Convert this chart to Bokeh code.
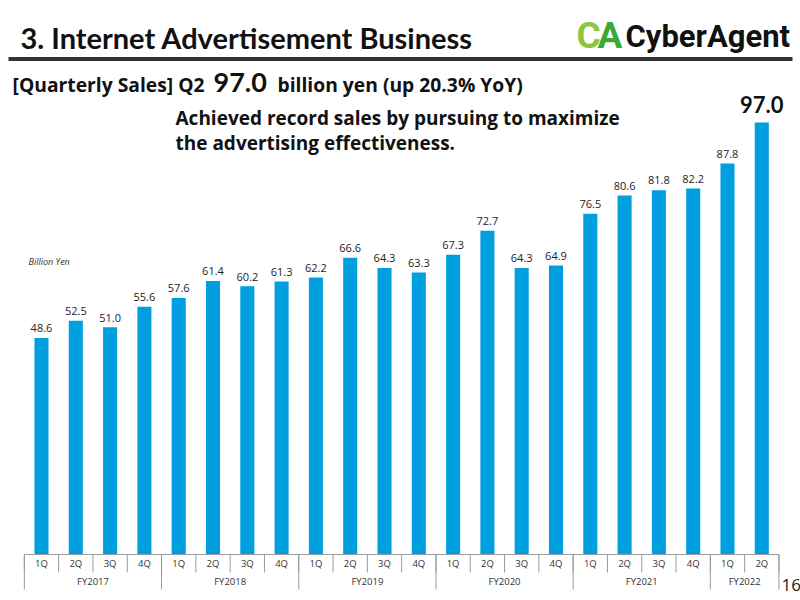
from bokeh.plotting import figure
from bokeh.models import Range1d, ColumnDataSource
from bokeh.core.properties import value
from bokeh.embed import file_html
from bokeh.resources import INLINE

# ---------------- data ----------------
fiscal_years = ["FY2017", "FY2018", "FY2019", "FY2020", "FY2021", "FY2022"]
quarters_per_year = [4, 4, 4, 4, 4, 2]
quarter_labels = ["1Q", "2Q", "3Q", "4Q"] * 5 + ["1Q", "2Q"]
sales = [48.6, 52.5, 51.0, 55.6, 57.6, 61.4, 60.2, 61.3, 62.2, 66.6, 64.3, 63.3,
         67.3, 72.7, 64.3, 64.9, 76.5, 80.6, 81.8, 82.2, 87.8, 97.0]

# ---------------- layout helpers ----------------
W, H = 800, 600
X_PX0, X_STEP = 41.0, 34.3      # pixel centre of first bar, pixel spacing
BASE, YSCALE = 554.0, 4.454     # baseline pixel, pixels per billion yen
x_start = -X_PX0 / X_STEP
x_end = x_start + W / X_STEP
y_end = BASE / YSCALE
y_start = -(H - BASE) / YSCALE
SHIFT = 0.34  # empirical baseline correction (fraction of font size)

def X(px):
    return x_start + px / X_STEP

def Y(py):
    return (BASE - py) / YSCALE

p = figure(width=W, height=H, x_range=Range1d(x_start, x_end), y_range=Range1d(y_start, y_end),
           output_backend="svg", toolbar_location=None, min_border=0)
p.axis.visible = False
p.grid.visible = False
p.outline_line_color = None
p.background_fill_color = "white"
p.border_fill_color = "white"

n = len(sales)
idx = list(range(n))
BLUE = "#009fe0"
LABEL_FONT = "Open Sans"
HEAD_FONT = "Lato"

src = ColumnDataSource(dict(x=idx, top=sales, q=quarter_labels))
p.vbar(x="x", top="top", width=0.41, bottom=0, source=src, fill_color=BLUE, line_color=None)

# value labels
small = ColumnDataSource(dict(x=idx[:-1], y=sales[:-1], lab=[f"{v:.1f}" for v in sales[:-1]]))
p.text(x="x", y="y", text="lab", source=small, text_align="center", text_baseline="alphabetic",
       y_offset=-6 - SHIFT * 11, text_font=value(LABEL_FONT), text_font_size="11px",
       text_color="#222222")
big = ColumnDataSource(dict(x=idx[-1:], y=sales[-1:], lab=[f"{v:.1f}" for v in sales[-1:]]))
p.text(x="x", y="y", text="lab", source=big, text_align="center", text_baseline="alphabetic",
       y_offset=-10 - SHIFT * 22, text_font=value(HEAD_FONT), text_font_style="bold",
       text_font_size="22px", text_color="#111111")

# ---------------- category axis ----------------
AX = "#9a9a9a"
p.segment(x0=[-0.5], y0=[0], x1=[n - 0.5], y1=[0], line_color=AX, line_width=1)
q_bounds = [i - 0.5 for i in range(n + 1)]
p.segment(x0=q_bounds, y0=[0] * len(q_bounds), x1=q_bounds, y1=[Y(572)] * len(q_bounds),
          line_color=AX, line_width=1)
y_bounds = [-0.5]
acc = 0
for k in quarters_per_year:
    acc += k
    y_bounds.append(acc - 0.5)
p.segment(x0=y_bounds, y0=[0] * len(y_bounds), x1=y_bounds, y1=[Y(589)] * len(y_bounds),
          line_color=AX, line_width=1)
p.text(x="x", y=Y(563), text="q", source=src, text_align="center", text_baseline="middle",
       text_font=value(LABEL_FONT), text_font_size="9.5px", text_color="#333333")
fy_centres = [(y_bounds[i] + y_bounds[i + 1]) / 2 for i in range(len(fiscal_years))]
p.text(x=fy_centres, y=[Y(581)] * len(fy_centres), text=fiscal_years, text_align="center",
       text_baseline="middle", text_font=value(LABEL_FONT), text_font_size="9.5px",
       text_color="#333333")

# ---------------- header / annotations ----------------
def lab(px, py, text, size, bold=True, color="#111111", font=HEAD_FONT, style=None,
        align="left"):
    p.text(x=[X(px)], y=[Y(py - SHIFT * size)], text=[text], text_font=value(font),
           text_font_size=f"{size}px",
           text_font_style=style or ("bold" if bold else "normal"),
           text_color=color, text_align=align, text_baseline="alphabetic")

lab(20, 47, "3. Internet Advertisement Business", 29)
# rule
p.segment(x0=[X(8)], y0=[Y(58.5)], x1=[X(792)], y1=[Y(58.5)], line_color="#333333", line_width=4)
# logo
lab(576, 48, "C", 37, color="#8cc63f", font="Roboto")
lab(597, 48, "A", 37, color="#3aaa35", font="Roboto")
lab(625, 47, "CyberAgent", 31, color="#111111", font="Roboto")
lab(783, 47, "®", 7, bold=False, color="#111111", font="Roboto")

lab(12, 91, "[Quarterly Sales] Q2", 19.3, font="Open Sans")
lab(213, 91, "97.0", 27)
lab(277, 91, "billion yen (up 20.3% YoY)", 19.3, font="Open Sans")
lab(175, 124, "Achieved record sales by pursuing to maximize", 19, font="Open Sans")
lab(175, 149, "the advertising effectiveness.", 19, font="Open Sans")
lab(28, 264, "Billion Yen", 9, bold=False, style="italic", color="#333333", font=LABEL_FONT)
lab(781, 590, "16", 17, bold=False, color="#222222", font=LABEL_FONT)

open("out.html", "w").write(file_html(p, INLINE))
